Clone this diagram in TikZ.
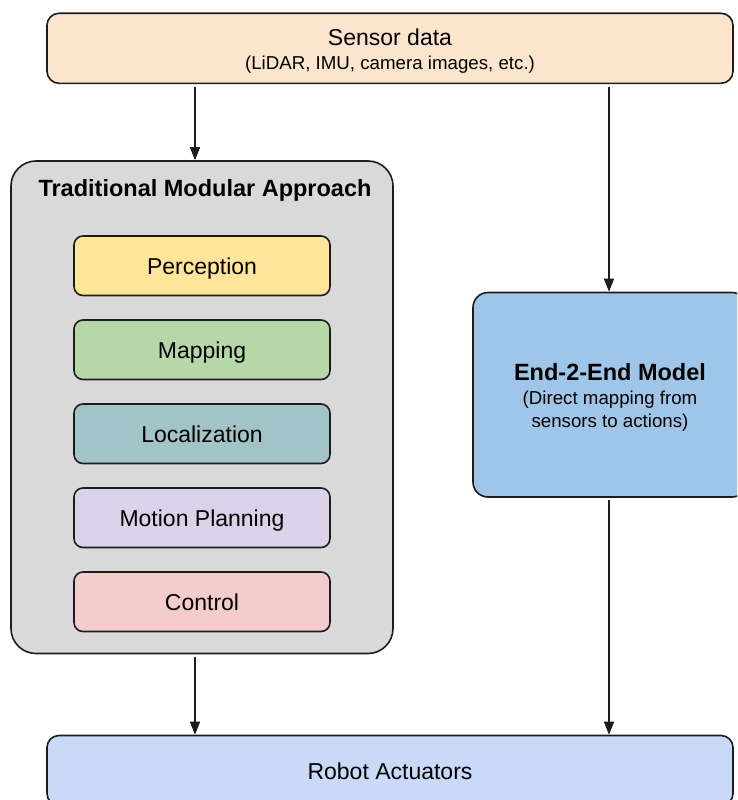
\documentclass[tikz,border=0pt]{standalone}
\usepackage{fontspec}
\setmainfont{Liberation Sans}
\usetikzlibrary{arrows.meta}

\definecolor{sensorfill}{HTML}{FCE5CD}
\definecolor{modfill}{HTML}{D9D9D9}
\definecolor{percfill}{HTML}{FFE599}
\definecolor{mapfill}{HTML}{B6D7A8}
\definecolor{locfill}{HTML}{A2C4C9}
\definecolor{planfill}{HTML}{D9D2E9}
\definecolor{ctrlfill}{HTML}{F4CCCC}
\definecolor{e2efill}{HTML}{9FC5E8}
\definecolor{actfill}{HTML}{C9DAF8}
\definecolor{edge}{HTML}{1C1C1C}

\tikzset{
  box/.style={draw=edge, line width=1.6pt, rectangle, inner sep=0pt,
    text height=17.5pt, text depth=0pt, font=\fontsize{23}{27}\selectfont},
  module/.style={box, rounded corners=9pt, minimum width=256pt, minimum height=59.5pt},
  txtmain/.style={inner sep=0pt, anchor=base, font=\fontsize{23}{27}\selectfont},
  txtbold/.style={inner sep=0pt, anchor=base, font=\fontsize{23.5}{27}\selectfont\bfseries},
  txtsub/.style={inner sep=0pt, anchor=base, font=\fontsize{18.7}{22}\selectfont},
  flow/.style={draw=edge, line width=1.5pt, -{Triangle[length=13pt,width=10pt]}, shorten <=2.5pt}
}

\begin{document}
\begin{tikzpicture}[x=1pt,y=-1pt]
\useasboundingbox (0,0) rectangle (737,800);
\clip (0,0) rectangle (737,800);

% sensor input
\node[box, rounded corners=12pt, fill=sensorfill, minimum width=686pt, minimum height=70pt] (sensor) at (390,48.3) {};
\node[txtmain] (sensorname) at (390,46) {Sensor data};
\node[txtsub] (sensornote) at (390,70) {(LiDAR, IMU, camera images, etc.)};

% modular pipeline
\node[box, rounded corners=25pt, fill=modfill, minimum width=382pt, minimum height=492.5pt] (modular) at (202,407.25) {};
\node[txtbold] (modtitle) at (205,196.7) {Traditional Modular Approach};
\node[module, fill=percfill] (perception) at (202,265.75) {Perception};
\node[module, fill=mapfill] (mapping) at (202,349.75) {Mapping};
\node[module, fill=locfill] (localization) at (202,433.75) {Localization};
\node[module, fill=planfill] (planning) at (202,517.75) {Motion Planning};
\node[module, fill=ctrlfill] (control) at (202,601.75) {Control};

% end-to-end model
\node[box, rounded corners=15pt, fill=e2efill, minimum width=274pt, minimum height=204.5pt] (e2e) at (610,394.75) {};
\node[txtbold] (e2ename) at (610,380) {End-2-End Model};
\node[txtsub] (e2enote1) at (610,404) {(Direct mapping from};
\node[txtsub] (e2enote2) at (610,427) {sensors to actions)};

% output
\node[box, rounded corners=12pt, fill=actfill, minimum width=686pt, minimum height=70pt] (actuators) at (390,770.5) {Robot Actuators};

% connectors
\coordinate (lx) at (195,0);
\coordinate (rx) at (609,0);
\draw[flow] (sensor.south -| lx) -- (modular.north -| lx);
\draw[flow] (sensor.south -| rx) -- (e2e.north -| rx);
\draw[flow] (modular.south -| lx) -- (actuators.north -| lx);
\draw[flow] (e2e.south -| rx) -- (actuators.north -| rx);
\end{tikzpicture}
\end{document}
